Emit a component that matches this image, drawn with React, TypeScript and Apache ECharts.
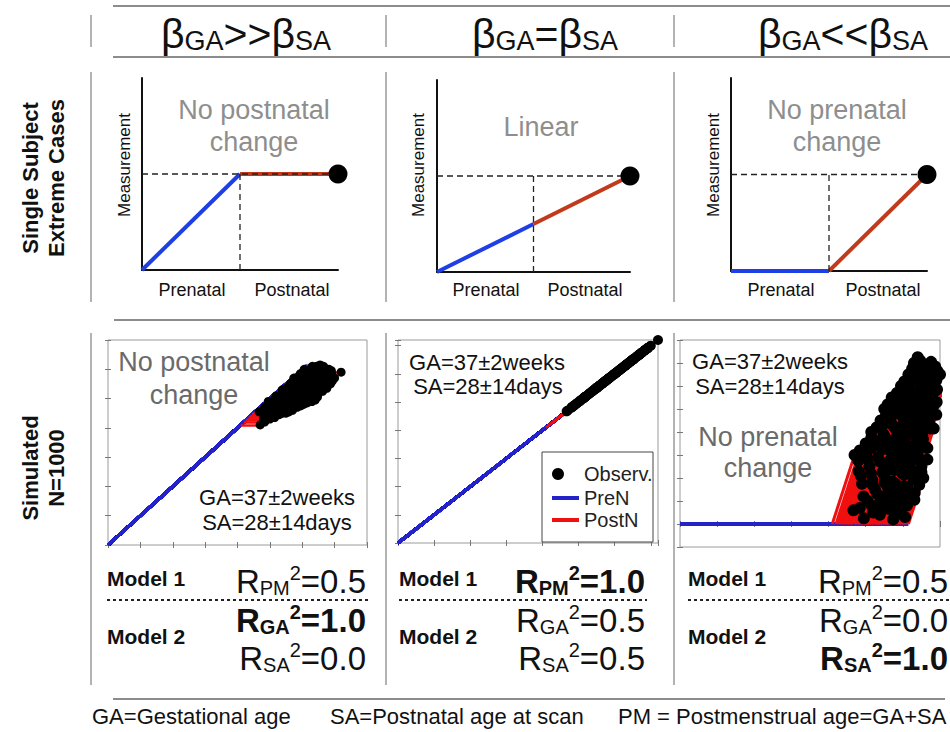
import React, { useEffect, useRef } from 'react';
import * as echarts from 'echarts';

const FONT = "'Liberation Sans', Arial, Helvetica, sans-serif";

// ---- Single-subject schematic cases (time: 0 = conception, 0.5 = birth, 1 = scan) ----
const schematicTime = [0, 0.5, 1];
const noPostnatalCase = [0, 0.5, 0.5];
const linearCase = [0, 0.25, 0.5];
const noPrenatalCase = [0, 0, 0.5];
const schematicTitles = ['No postnatal\nchange', 'Linear', 'No prenatal\nchange'];
const phaseLabels = ['Prenatal', 'Postnatal'];

// ---- Header relations ----
const headerRelations = ['>>', '=', '<<'];

// ---- Simulated subjects (plot units): gestational age at birth and postnatal age at scan ----
const gestAge = [
  4.9, 5.3, 5.7, 6.0,
  4.55, 5.1, 5.5, 5.85,
  4.85, 5.2, 5.4, 5.65, 6.1,
  4.95, 5.25, 5.55, 5.8, 6.05,
  4.45, 4.8, 5.1, 5.35, 5.6, 5.9, 6.15,
  4.6, 4.95, 5.2, 5.45, 5.7, 6.0,
  4.1, 4.4, 4.75, 5.05, 5.3, 5.55, 5.8, 6.1,
  4.3, 4.6, 4.9, 5.15, 5.4, 5.65, 5.95,
  4.35, 4.7, 5.0, 5.25, 5.5, 5.75, 6.0,
  4.5, 4.8, 5.1, 5.35, 5.6, 5.85,
  4.5, 4.75, 5.0, 5.2, 5.45, 5.7, 5.95,
  4.6, 4.9, 5.15, 5.4, 5.65, 5.85,
  4.75, 5.0, 5.25, 5.5, 5.75,
  4.85, 5.1, 5.35, 5.55, 5.7, 5.9,
  4.9, 5.25, 5.5,
  4.95,
  4.7, 5.0, 5.35, 5.6, 5.95,
  4.7, 5.05, 5.3, 5.5, 5.75, 6.0,
  4.55, 4.85, 5.15, 5.45, 5.7, 6.1,
  4.35, 4.7, 5.0, 5.3, 5.55, 5.8, 6.05,
  4.25, 4.5, 4.85, 5.1, 5.35, 5.65, 5.9,
  4.2, 4.5, 4.8, 5.0, 5.25, 5.5, 5.75, 6.0,
  4.4, 4.75, 5.05, 5.3, 5.55, 5.8,
  4.45, 4.6, 4.9, 5.15, 5.4, 5.65, 5.9,
  4.6, 4.9, 5.25, 5.5, 5.75,
  4.55, 4.8, 5.05, 5.3, 5.55, 5.8,
  4.7, 4.95, 5.3, 5.55, 5.7,
  4.8, 5.05, 5.3, 5.45, 5.65,
  4.9, 5.15, 5.4, 5.6,
  5.05, 5.35,
];
const postAge = [
  0.05, 0.08, 0.04, 0.06,
  0.12, 0.1, 0.13, 0.09,
  0.2, 0.18, 0.23, 0.17, 0.21,
  0.3, 0.33, 0.28, 0.32, 0.27,
  0.42, 0.38, 0.41, 0.37, 0.43, 0.39, 0.4,
  0.5, 0.53, 0.48, 0.52, 0.47, 0.5,
  0.6, 0.62, 0.58, 0.63, 0.57, 0.61, 0.6, 0.56,
  0.7, 0.72, 0.68, 0.73, 0.69, 0.71, 0.67,
  0.8, 0.78, 0.82, 0.79, 0.81, 0.77, 0.83,
  0.9, 0.88, 0.92, 0.89, 0.91, 0.87,
  1.0, 0.98, 1.02, 0.99, 1.01, 0.97, 0.95,
  1.1, 1.08, 1.12, 1.09, 1.11, 1.06,
  1.2, 1.18, 1.22, 1.19, 1.17,
  1.3, 1.28, 1.32, 1.29, 1.3, 1.3,
  1.4, 1.38, 1.37,
  1.45,
  0.14, 0.16, 0.15, 0.13, 0.16,
  0.24, 0.26, 0.25, 0.27, 0.23, 0.25,
  0.35, 0.34, 0.36, 0.35, 0.33, 0.34,
  0.46, 0.44, 0.45, 0.47, 0.44, 0.46, 0.45,
  0.55, 0.56, 0.54, 0.55, 0.57, 0.53, 0.55,
  0.64, 0.66, 0.65, 0.66, 0.64, 0.65, 0.63, 0.66,
  0.75, 0.76, 0.74, 0.75, 0.77, 0.74,
  0.84, 0.86, 0.85, 0.86, 0.84, 0.85, 0.83,
  0.94, 0.96, 0.95, 0.93, 0.96,
  1.04, 1.05, 1.06, 1.04, 1.05, 1.03,
  1.14, 1.16, 1.15, 1.14, 1.15,
  1.24, 1.26, 1.25, 1.24, 1.25,
  1.35, 1.34, 1.36, 1.33,
  1.42, 1.41,
];
const postnatalSlope = 5; // growth per unit postnatal age in the "no prenatal change" simulation

const simInfo = ['GA=37±2weeks', 'SA=28±14days'];
const legendLabels = ['Observ.', 'PreN', 'PostN'];

// ---- Model fits ----
const rPM = ['0.5', '1.0', '0.5'];
const rGA = ['1.0', '0.5', '0.0'];
const rSA = ['0.0', '0.5', '1.0'];
const boldPM = [false, true, false];
const boldGA = [true, false, false];
const boldSA = [false, false, true];

const footnotes = ['GA=Gestational age', 'SA=Postnatal age at scan', 'PM = Postmenstrual age=GA+SA'];

const BLUE_S = '#1e3ee6';
const RED_S = '#c23a1c';
const BLUE = '#2323c8';
const RED = '#f01010';
const RULE = '#8c8c8c';

function buildOption() {
  const cases = [noPostnatalCase, linearCase, noPrenatalCase];
  const grids: any[] = [
    { left: 142, top: 78, width: 196, height: 192 },
    { left: 437, top: 80, width: 193, height: 192 },
    { left: 731, top: 78, width: 196, height: 193 },
    { left: 108, top: 340, width: 259, height: 205, show: true, borderColor: '#9a9a9a', borderWidth: 1 },
    { left: 398, top: 340, width: 260, height: 203, show: true, borderColor: '#9a9a9a', borderWidth: 1 },
    { left: 680, top: 340, width: 260, height: 207, show: true, borderColor: '#9a9a9a', borderWidth: 1 },
  ];
  const schemAxis = (gi: number) => ({
    type: 'value', gridIndex: gi, min: 0, max: 1,
    axisLine: { show: true, lineStyle: { color: '#111', width: 2 } },
    axisTick: { show: false }, axisLabel: { show: false }, splitLine: { show: false },
  });
  const simAxis = (gi: number, min: number, max: number, position: string) => ({
    type: 'value', gridIndex: gi, min, max, interval: 1, position,
    axisLine: { show: false },
    axisTick: { show: true, inside: true, length: 3, lineStyle: { color: '#777' } },
    axisLabel: { show: false }, splitLine: { show: false },
  });
  const simX = [[0, 8], [0, 7.2], [0, 7]];
  const simY = [[0, 7], [0, 7.2], [-1, 8]];
  const xAxis: any[] = [0, 1, 2].map((i) => schemAxis(i));
  const yAxis: any[] = [0, 1, 2].map((i) => schemAxis(i));
  [0, 1, 2].forEach((k) => {
    xAxis.push(simAxis(3 + k, simX[k][0], simX[k][1], 'bottom'));
    yAxis.push(simAxis(3 + k, simY[k][0], simY[k][1], 'left'));
  });
  [0, 1, 2].forEach((k) => {
    xAxis.push(simAxis(3 + k, simX[k][0], simX[k][1], 'top'));
    yAxis.push(simAxis(3 + k, simY[k][0], simY[k][1], 'right'));
  });

  const series: any[] = [];
  cases.forEach((c, i) => {
    const pts = schematicTime.map((t, j) => [t, c[j]]);
    series.push({ type: 'line', xAxisIndex: i, yAxisIndex: i, data: [pts[0], pts[1]], symbol: 'none', lineStyle: { color: BLUE_S, width: 4 }, z: 3 });
    series.push({ type: 'line', xAxisIndex: i, yAxisIndex: i, data: [pts[1], pts[2]], symbol: 'none', lineStyle: { color: RED_S, width: 4 }, z: 3 });
    series.push({ type: 'line', xAxisIndex: i, yAxisIndex: i, data: [[schematicTime[0], c[2]], pts[2]], symbol: 'none', lineStyle: { color: '#222', width: 1.3, type: [6, 4] }, z: 4 });
    series.push({ type: 'line', xAxisIndex: i, yAxisIndex: i, data: [[schematicTime[1], 0], [schematicTime[1], c[2]]], symbol: 'none', lineStyle: { color: '#222', width: 1.3, type: [6, 4] }, z: 4 });
    series.push({ type: 'scatter', xAxisIndex: i, yAxisIndex: i, data: [pts[2]], symbolSize: 19, itemStyle: { color: '#000', opacity: 1 }, z: 5 });
  });

  const pm = gestAge.map((g, i) => g + postAge[i]);
  const sims = [
    {
      blue: gestAge.map((g) => ({ coords: [[0, 0], [g, g]] })),
      red: gestAge.map((g, i) => ({ coords: [[g, g], [pm[i], g]] })),
      obs: gestAge.map((g, i) => [pm[i], g]),
    },
    {
      blue: gestAge.map((g) => ({ coords: [[0, 0], [g, g]] })),
      red: gestAge.map((g, i) => ({ coords: [[g, g], [pm[i], pm[i]]] })),
      obs: gestAge.map((g, i) => [pm[i], pm[i]]),
    },
    {
      blue: gestAge.map((g) => ({ coords: [[0, 0], [g, 0]] })),
      red: gestAge.map((g, i) => ({ coords: [[g, 0], [pm[i], postnatalSlope * postAge[i]]] })),
      obs: gestAge.map((g, i) => [pm[i], postnatalSlope * postAge[i]]),
    },
  ];
  const dotSize = [9, 10, 12];
  sims.forEach((s, k) => {
    const ai = 3 + k;
    series.push({ type: 'lines', name: 'PreN', coordinateSystem: 'cartesian2d', xAxisIndex: ai, yAxisIndex: ai, data: s.blue, clip: true, lineStyle: { color: BLUE, width: k === 2 ? 4 : 3, opacity: 1 }, z: 2 });
    series.push({ type: 'lines', name: 'PostN', coordinateSystem: 'cartesian2d', xAxisIndex: ai, yAxisIndex: ai, data: s.red, clip: true, lineStyle: { color: RED, width: k === 2 ? 3 : 2.5, opacity: 1 }, z: 3 });
    series.push({ type: 'scatter', name: 'Observ.', xAxisIndex: ai, yAxisIndex: ai, data: s.obs, clip: true, symbolSize: dotSize[k], itemStyle: { color: '#000', opacity: 1 }, z: 4 });
  });

  const g: any[] = [];
  const line = (x1: number, y1: number, x2: number, y2: number, stroke = RULE, lineWidth = 1.5, dash?: number[], z = 10) =>
    g.push({ type: 'line', shape: { x1, y1, x2, y2 }, style: { stroke, lineWidth, lineDash: dash }, z });
  const text = (x: number, y: number, t: string, o: any = {}) =>
    g.push({
      type: 'text', x, y, rotation: o.rotation || 0, z: 20,
      style: {
        text: t, fill: o.fill || '#111', fontSize: o.fontSize || 18, fontFamily: FONT, fontWeight: o.fontWeight || 'normal',
        textAlign: o.align || 'center', textVerticalAlign: 'middle', lineHeight: o.lineHeight, rich: o.rich,
      },
    });

  // structure rules
  line(113, 6, 950, 6, RULE, 2);
  line(113, 57, 950, 57, RULE, 2);
  line(114, 320, 950, 320, RULE, 2);
  line(113, 699, 945, 699, RULE, 2);
  [91, 386, 674].forEach((x) => {
    line(x, 15, x, 47, '#9a9a9a', 1.5);
    line(x, 72, x, 302, '#9a9a9a', 1.5);
    line(x, 333, x, 685, '#9a9a9a', 1.5);
  });

  // header
  const hx = [246, 545, 843];
  headerRelations.forEach((r, i) => {
    text(hx[i], 33, `{b|β}{s|GA}{b|${r}β}{s|SA}`, {
      rich: {
        b: { fontSize: 41, lineHeight: 42, fontFamily: FONT, verticalAlign: 'bottom', fill: '#111' },
        s: { fontSize: 27, lineHeight: 27, fontFamily: FONT, verticalAlign: 'bottom', fill: '#111' },
      },
    });
  });

  // row labels
  text(30, 178, 'Single Subject', { rotation: Math.PI / 2, fontSize: 22, fontWeight: 'bold' });
  text(56, 178, 'Extreme Cases', { rotation: Math.PI / 2, fontSize: 22, fontWeight: 'bold' });
  text(30, 468, 'Simulated', { rotation: Math.PI / 2, fontSize: 22, fontWeight: 'bold' });
  text(56, 468, 'N=1000', { rotation: Math.PI / 2, fontSize: 22, fontWeight: 'bold' });

  // schematic labels
  const measX = [124, 418, 713];
  const preX = [192, 486, 781];
  const postX = [292, 585, 883];
  const titleX = [254, 541, 837];
  const titleY = [126, 127, 126];
  [0, 1, 2].forEach((i) => {
    text(measX[i], 165, 'Measurement', { rotation: Math.PI / 2, fontSize: 17 });
    text(preX[i], 290, phaseLabels[0], { fontSize: 18 });
    text(postX[i], 290, phaseLabels[1], { fontSize: 18 });
    text(titleX[i], titleY[i], schematicTitles[i], { fontSize: 27, fill: '#8e8e8e', lineHeight: 32 });
  });

  // simulated panel annotations
  text(194, 378, 'No postnatal\nchange', { fontSize: 27, fill: '#6a6a6a', lineHeight: 33 });
  text(768, 452, 'No prenatal\nchange', { fontSize: 27, fill: '#6a6a6a', lineHeight: 31 });
  text(277, 497, simInfo[0], { fontSize: 22 });
  text(277, 522, simInfo[1], { fontSize: 22 });
  text(487, 362, simInfo[0], { fontSize: 22 });
  text(488, 386, simInfo[1], { fontSize: 22 });
  text(770, 361, simInfo[0], { fontSize: 22 });
  text(770, 386, simInfo[1], { fontSize: 22 });

  // legend (panel 2)
  g.push({ type: 'rect', shape: { x: 542, y: 452, width: 111, height: 90 }, style: { fill: '#fff', stroke: '#444', lineWidth: 1 }, z: 15 });
  g.push({ type: 'circle', shape: { cx: 558, cy: 474, r: 6 }, style: { fill: '#000' }, z: 16 });
  line(552, 498, 579, 498, BLUE, 4, undefined, 16);
  line(552, 520, 579, 520, RED, 4, undefined, 16);
  text(584, 474, legendLabels[0], { fontSize: 20, align: 'left', fill: '#222' });
  text(584, 498, legendLabels[1], { fontSize: 20, align: 'left', fill: '#222' });
  text(584, 520, legendLabels[2], { fontSize: 20, align: 'left', fill: '#222' });

  // model fits
  const modelX = [107, 399, 688];
  const rightX = [366, 645, 948];
  const rsq = (x: number, y: number, sub: string, val: string, bold: boolean) => {
    const w = bold ? 'bold' : 'normal';
    text(x, y, `{r|R}{s|${sub}}{p|2}{r|=${val}}`, {
      align: 'right',
      rich: {
        r: { fontSize: 33, lineHeight: 35, fontFamily: FONT, fontWeight: w, verticalAlign: 'bottom', fill: '#111' },
        s: { fontSize: 20, lineHeight: 20, fontFamily: FONT, fontWeight: w, verticalAlign: 'bottom', fill: '#111' },
        p: { fontSize: 20, lineHeight: 20, fontFamily: FONT, fontWeight: w, verticalAlign: 'top', fill: '#111' },
      },
    });
  };
  [0, 1, 2].forEach((i) => {
    text(modelX[i], 578, 'Model 1', { fontSize: 21, fontWeight: 'bold', align: 'left' });
    text(modelX[i], 636, 'Model 2', { fontSize: 21, fontWeight: 'bold', align: 'left' });
    line(modelX[i], 600, rightX[i] + 2, 600, '#222', 2, [3, 3]);
    rsq(rightX[i], 580, 'PM', rPM[i], boldPM[i]);
    rsq(rightX[i], 619, 'GA', rGA[i], boldGA[i]);
    rsq(rightX[i], 657, 'SA', rSA[i], boldSA[i]);
  });

  // footnotes
  const footX = [92, 330, 618];
  footnotes.forEach((f, i) => text(footX[i], 716, f, { fontSize: 22, align: 'left' }));

  return {
    animation: false,
    backgroundColor: '#fff',
    grid: grids,
    xAxis,
    yAxis,
    series,
    graphic: { elements: g },
  };
}

export default function App() {
  const ref = useRef<HTMLDivElement>(null);
  useEffect(() => {
    if (!ref.current) return;
    const chart = echarts.init(ref.current, undefined, { renderer: 'svg' });
    chart.setOption(buildOption() as any);
    return () => chart.dispose();
  }, []);
  return <div ref={ref} style={{ position: 'fixed', left: 0, top: 0, width: 950, height: 732, background: '#fff' }} />;
}
